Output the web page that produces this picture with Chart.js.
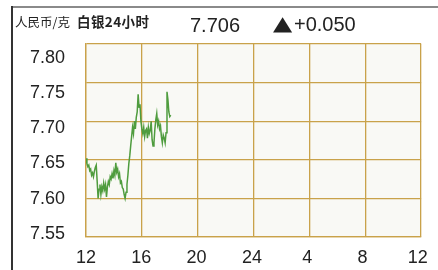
<!DOCTYPE html>
<html>
<head>
<meta charset="utf-8">
<script src="https://cdn.jsdelivr.net/npm/chart.js@4/dist/chart.umd.min.js"></script>
<style>
  html, body { margin: 0; padding: 0; background: #ffffff; }
  #wrap { position: relative; width: 438px; height: 270px; overflow: hidden; font-family: "Liberation Sans", Arial, "Noto Sans CJK SC", sans-serif; color: #222; }
  #frameTop { position: absolute; left: 11px; top: 6px; width: 427px; height: 2px; background: #8a8a8a; }
  #frameLeft { position: absolute; left: 11px; top: 6px; width: 1.5px; height: 264px; background: #333; }
  .t { position: absolute; white-space: nowrap; line-height: 1; }
  #unit { left: 15px; top: 16px; font-size: 12.5px; font-family: "Noto Sans CJK SC", sans-serif; }
  #title { left: 77px; top: 15px; font-size: 13.5px; font-weight: bold; font-family: "Noto Sans CJK SC", sans-serif; letter-spacing: 0.4px; }
  #price { left: 190px; top: 15px; font-size: 20px; }
  #tri { left: 273px; top: 13px; font-size: 20px; font-family: "DejaVu Sans", sans-serif; transform: scaleX(1.25); transform-origin: left center; }
  #change { left: 294px; top: 14px; font-size: 20px; }
  canvas { position: absolute; left: 0; top: 0; }
</style>
</head>
<body>
<div id="wrap">
  <canvas id="c" width="438" height="270"></canvas>
  <div id="frameTop"></div>
  <div id="frameLeft"></div>
  <div class="t" id="unit">人民币/克</div>
  <div class="t" id="title">白银24小时</div>
  <div class="t" id="price">7.706</div>
  <div class="t" id="tri">▲</div>
  <div class="t" id="change">+0.050</div>
</div>
<script>
// ---- data ----
const xTickValues = [0, 4, 8, 12, 16, 20, 24];           // hours since 12:00
const xTickLabels = ['12', '16', '20', '24', '4', '8', '12'];
const yTickValues = [7.55, 7.60, 7.65, 7.70, 7.75, 7.80];
const sampleMinutes = 4;                                   // one sample every 4 minutes from 12:00
const silverPrice = [
  7.652, 7.645, 7.641, 7.643, 7.636, 7.638, 7.630, 7.633, 7.628, 7.635,
  7.640, 7.643, 7.622, 7.600, 7.612, 7.618, 7.605, 7.615, 7.610, 7.620,
  7.612, 7.618, 7.602, 7.615, 7.622, 7.618, 7.628, 7.625, 7.632, 7.626,
  7.636, 7.630, 7.646, 7.634, 7.638, 7.628, 7.632, 7.620, 7.622, 7.614,
  7.612, 7.605, 7.600, 7.608, 7.618, 7.630, 7.645, 7.655, 7.668, 7.680,
  7.692, 7.684, 7.700, 7.690, 7.705, 7.712, 7.735, 7.718, 7.722, 7.700,
  7.690, 7.684, 7.692, 7.680, 7.688, 7.690, 7.678, 7.692, 7.684, 7.688,
  7.700, 7.676, 7.668, 7.672, 7.690, 7.702, 7.710, 7.695, 7.700, 7.690,
  7.694, 7.680, 7.672, 7.682, 7.678, 7.672, 7.685, 7.738, 7.728, 7.712,
  7.706, 7.708
];

const points = silverPrice.map((v, i) => ({ x: i * sampleMinutes / 60, y: v }));

const GRID = '#c9a24a';
const tickFont = { family: '"Liberation Sans", Arial, sans-serif', size: 18 };

const plotBg = {
  id: 'plotBg',
  beforeDraw(chart) {
    const { ctx, chartArea: a } = chart;
    ctx.save();
    ctx.fillStyle = '#f9f9f5';
    ctx.fillRect(a.left, a.top, a.right - a.left, a.bottom - a.top);
    ctx.restore();
  }
};

new Chart(document.getElementById('c'), {
  type: 'line',
  data: {
    datasets: [{
      data: points,
      borderColor: '#4f9c3e',
      borderWidth: 1.5,
      pointRadius: 0,
      tension: 0,
      fill: false
    }]
  },
  options: {
    responsive: false,
    animation: false,
    layout: { padding: { left: 0, right: 13, top: 44, bottom: 0 } },
    plugins: { legend: { display: false }, tooltip: { enabled: false } },
    scales: {
      x: {
        type: 'linear', position: 'bottom', min: 0, max: 24,
        ticks: { display: false, stepSize: 4 },
        grid: { color: GRID, lineWidth: 1.3, drawTicks: false },
        border: { color: GRID, width: 1.3 },
        afterFit: s => { s.height = 0; }
      },
      xl: {
        type: 'linear', position: 'bottom', min: 0, max: 24.24,
        grid: { display: false, drawTicks: false, tickLength: 0 },
        border: { display: false },
        ticks: {
          color: '#222', font: tickFont, padding: 10, maxRotation: 0,
          callback: v => { const i = xTickValues.indexOf(v); return i >= 0 ? xTickLabels[i] : ''; }
        },
        afterBuildTicks: s => { s.ticks = xTickValues.map(v => ({ value: v })); },
        afterFit: s => { s.height = 33; }
      },
      y: {
        type: 'linear', position: 'left', min: 7.55, max: 7.80,
        ticks: { display: false, stepSize: 0.05 },
        grid: { color: GRID, lineWidth: 1.3, drawTicks: false },
        border: { color: GRID, width: 1.3 },
        afterFit: s => { s.width = 0; }
      },
      yl: {
        type: 'linear', position: 'left', min: 7.5455, max: 7.8196,
        grid: { display: false, drawTicks: false, tickLength: 0 },
        border: { display: false },
        ticks: { color: '#222', font: tickFont, padding: 21, callback: v => v.toFixed(2) },
        afterBuildTicks: s => { s.ticks = yTickValues.map(v => ({ value: v })); },
        afterFit: s => { s.width = 86; }
      }
    }
  },
  plugins: [plotBg]
});
</script>
</body>
</html>
